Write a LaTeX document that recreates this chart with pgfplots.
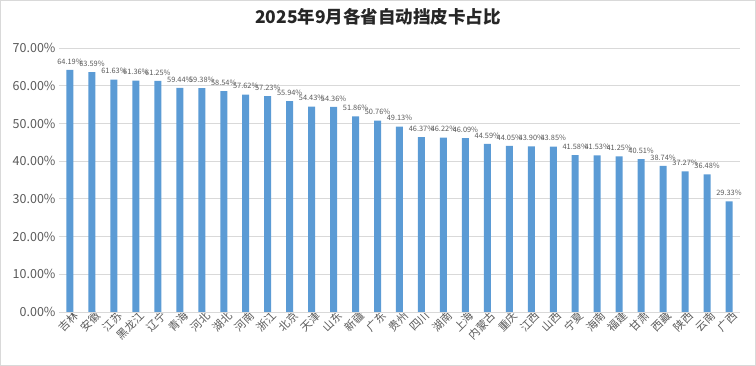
\documentclass[border=0pt]{standalone}
\usepackage{pgfplots}
\pgfplotsset{compat=1.18}
\usepackage{fontspec}
\setmainfont{Noto Sans CJK SC}
\usetikzlibrary{calc}
\definecolor{barblue}{HTML}{5B9BD5}
\definecolor{gridgray}{HTML}{D9D9D9}
\definecolor{txtgray}{HTML}{595959}
\begin{document}
\begin{tikzpicture}
\begin{axis}[
  name=ax,
  scale only axis,
  width=681pt, height=264pt,
  xmin=-0.5, xmax=30.5,
  ymin=0, ymax=70,
  ytick={0,10,...,70},
  xtick={0,...,30},
  xticklabels={吉林,安徽,江苏,黑龙江,辽宁,青海,河北,湖北,河南,浙江,北京,天津,山东,新疆,广东,贵州,四川,湖南,上海,内蒙古,重庆,江西,山西,宁夏,海南,福建,甘肃,西藏,陕西,云南,广西},
  x tick label style={rotate=45, anchor=north east, font=\fontsize{11}{12}\selectfont, text=txtgray, inner sep=0.5pt, xshift=4pt},
  y tick label style={font=\fontsize{12.5}{14}\selectfont, text=txtgray},
  /pgf/number format/assume math mode=true,
  yticklabel={\pgfmathprintnumber[fixed,fixed zerofill,precision=2]{\tick}\%},
  ymajorgrids, grid style={gridgray, line width=0.8pt},
  axis line style={draw=none},
  major tick length=0pt,
  tick style={draw=none},
  ybar, bar width=7pt,
  nodes near coords={\pgfmathprintnumber[fixed,fixed zerofill,precision=2]{\pgfplotspointmeta}\%},
  nodes near coords style={font=\fontsize{7.4}{8}\selectfont, text=txtgray, inner sep=0.5pt, yshift=5pt},
  clip=false,
]
\addplot[fill=barblue, draw=none] coordinates {
(0,64.19) (1,63.59) (2,61.63) (3,61.36) (4,61.25) (5,59.44) (6,59.38) (7,58.54) (8,57.62) (9,57.23)
(10,55.94) (11,54.43) (12,54.36) (13,51.86) (14,50.76) (15,49.13) (16,46.37) (17,46.22) (18,46.09) (19,44.59)
(20,44.05) (21,43.90) (22,43.85) (23,41.58) (24,41.53) (25,41.25) (26,40.51) (27,38.74) (28,37.27) (29,36.48) (30,29.33)
};
\draw[gridgray, line width=0.8pt] (rel axis cs:0,0) -- (rel axis cs:1,0);
\end{axis}
\node[font=\fontsize{17.5}{20}\selectfont\bfseries, text=black!85] at ($(ax.south west)+(319pt,295pt)$) {2025年9月各省自动挡皮卡占比};
\pgfresetboundingbox
\draw[gridgray, line width=0.8pt] ($(ax.south west)+(-58.6pt,-53.6pt)$) rectangle ++(755.2pt,365.2pt);
\end{tikzpicture}
\end{document}
